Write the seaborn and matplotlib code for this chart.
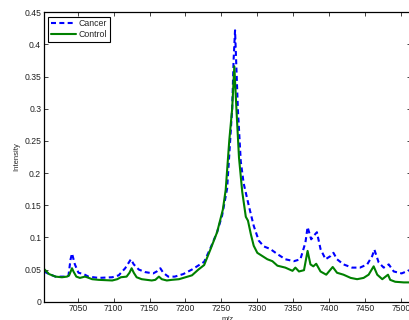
import numpy as np
import pandas as pd
import matplotlib
matplotlib.use("Agg")
import matplotlib.pyplot as plt
import seaborn as sns

# m/z and intensity
control_mz = [7003, 7010, 7019, 7028, 7035, 7038, 7042, 7044, 7048, 7053, 7060, 7063,
              7070, 7079, 7098, 7105, 7110, 7118, 7122, 7125, 7128, 7132, 7139, 7146,
              7153, 7158, 7163, 7167, 7174, 7181, 7191, 7200, 7209, 7218, 7226, 7235,
              7244, 7252, 7256, 7261, 7265, 7268, 7271, 7274.5, 7279, 7284, 7287, 7291,
              7295, 7300, 7307, 7314, 7321, 7328, 7339, 7349, 7353, 7358, 7365, 7370,
              7374, 7378, 7382, 7388, 7396, 7405, 7411, 7420, 7430, 7439, 7448, 7455,
              7462, 7467, 7474, 7482, 7485, 7492, 7504, 7514]
control_int = [0.051, 0.043, 0.039, 0.038, 0.039, 0.041, 0.052, 0.047, 0.039, 0.037, 0.039, 0.038,
               0.035, 0.034, 0.033, 0.035, 0.038, 0.039, 0.045, 0.052, 0.045, 0.038, 0.035, 0.034,
               0.033, 0.034, 0.039, 0.035, 0.033, 0.034, 0.035, 0.038, 0.041, 0.050, 0.057, 0.082,
               0.108, 0.143, 0.174, 0.251, 0.300, 0.366, 0.298, 0.224, 0.171, 0.132, 0.126, 0.105,
               0.087, 0.076, 0.071, 0.066, 0.063, 0.056, 0.053, 0.048, 0.053, 0.047, 0.049, 0.079,
               0.058, 0.055, 0.059, 0.047, 0.042, 0.054, 0.045, 0.042, 0.037, 0.035, 0.037, 0.042,
               0.055, 0.042, 0.035, 0.042, 0.034, 0.031, 0.030, 0.030]

cancer_mz = [7003, 7010, 7019, 7033, 7037, 7040, 7042, 7046, 7051, 7058, 7065, 7079,
             7098, 7107, 7116, 7124, 7128, 7135, 7144, 7155, 7160, 7165, 7169, 7176,
             7185, 7197, 7209, 7226, 7235, 7244, 7251, 7258, 7265, 7267, 7269, 7273,
             7277, 7281, 7288, 7295, 7302, 7309, 7318, 7328, 7339, 7351, 7360, 7367,
             7370, 7375, 7379, 7383, 7388, 7395, 7402, 7406, 7411, 7420, 7432, 7443,
             7453, 7460, 7463, 7469, 7476, 7483, 7490, 7501, 7514]
cancer_int = [0.047, 0.043, 0.039, 0.039, 0.040, 0.066, 0.075, 0.058, 0.045, 0.043, 0.039, 0.037,
              0.038, 0.041, 0.052, 0.066, 0.058, 0.050, 0.046, 0.044, 0.047, 0.052, 0.045, 0.039,
              0.039, 0.043, 0.050, 0.062, 0.084, 0.108, 0.134, 0.176, 0.300, 0.376, 0.422, 0.298,
              0.218, 0.184, 0.150, 0.118, 0.095, 0.086, 0.082, 0.074, 0.066, 0.063, 0.066, 0.092,
              0.116, 0.097, 0.103, 0.108, 0.082, 0.066, 0.071, 0.076, 0.066, 0.058, 0.053, 0.053,
              0.058, 0.071, 0.081, 0.061, 0.053, 0.058, 0.047, 0.044, 0.050]

df = pd.concat([
    pd.DataFrame({"mz": cancer_mz, "Intensity": cancer_int, "group": "Cancer"}),
    pd.DataFrame({"mz": control_mz, "Intensity": control_int, "group": "Control"}),
])

sns.set_style("ticks")
plt.rcParams["font.family"] = ["Liberation Sans", "DejaVu Sans"]
plt.rcParams["xtick.direction"] = "in"
plt.rcParams["ytick.direction"] = "in"

fig = plt.figure(figsize=(4.09, 3.2), dpi=100)
ax = fig.add_axes([44 / 409, 18.3 / 320, 367 / 409, 289.4 / 320])

sns.lineplot(data=df, x="mz", y="Intensity", hue="group", style="group",
             palette={"Cancer": "#0000ff", "Control": "#008000"},
             dashes={"Cancer": (2.4, 1.6), "Control": ""},
             estimator=None, sort=False, linewidth=1.5, ax=ax)

ax.set_xlim(7003, 7514)
ax.set_ylim(0, 0.45)
ax.set_xticks(np.arange(7050, 7501, 50))
ax.set_yticks(np.arange(0, 0.451, 0.05))
ax.set_yticklabels(["0", "0.05", "0.1", "0.15", "0.2", "0.25", "0.3", "0.35", "0.4", "0.45"])
ax.tick_params(labelsize=6.2, length=3, width=0.6, top=True, right=True, pad=2, colors="#222222")
for s in ax.spines.values():
    s.set_linewidth(0.9)
    s.set_color("black")
ax.set_xlabel("m/z", fontsize=5.5, labelpad=2)
ax.set_ylabel("Intensity", fontsize=5.5, labelpad=3)

leg = ax.legend(loc="upper left", fontsize=6.3, frameon=True, fancybox=False,
                edgecolor="black", framealpha=1, handlelength=2.9, handletextpad=0.25,
                borderpad=0.3, labelspacing=0.2, borderaxespad=0.5)
leg.get_frame().set_linewidth(0.8)

fig.savefig("out.png", dpi=100)
